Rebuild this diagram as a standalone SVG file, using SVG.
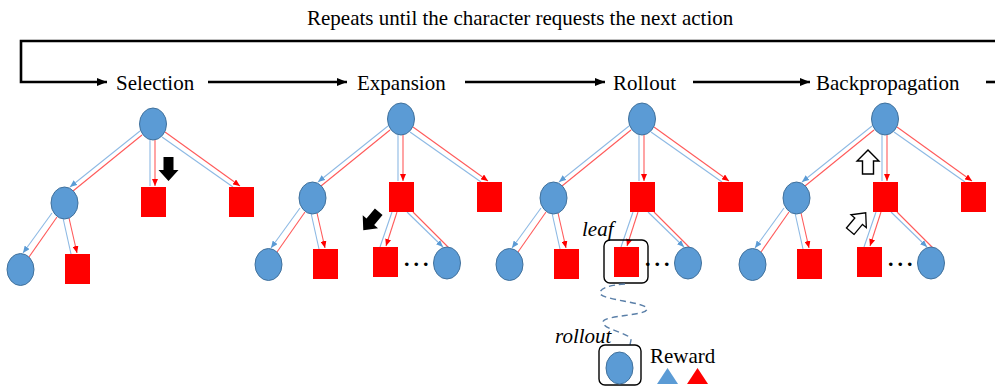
<svg xmlns="http://www.w3.org/2000/svg" xmlns:xlink="http://www.w3.org/1999/xlink" width="995" height="387" viewBox="0 0 995 387">
<style>
  .lbl { font-family: "Liberation Serif", "Times New Roman", serif; font-size: 21px; fill: #000; }
  .it { font-style: italic; }
  .flow { fill: none; stroke: #000; stroke-width: 2.6; }
  .c { fill: #5B9BD5; stroke: #41719C; stroke-width: 1; }
  .s { fill: #FF0000; }
  .eb { fill: none; stroke: #8DB9E4; stroke-width: 1.1; }
  .er { fill: none; stroke: #FF5A5A; stroke-width: 1.1; }
  .box { fill: none; stroke: #000; stroke-width: 1.4; }
  .dots { font-family: "Liberation Serif", serif; font-size: 22px; font-weight: bold; letter-spacing: 4px; fill: #000; }
  .blk { fill: #000; }
  .out { fill: #fff; stroke: #000; stroke-width: 1.3; }
</style>
<defs>
  <marker id="ab" viewBox="0 0 7 6" refX="7" refY="3" markerWidth="7" markerHeight="6" markerUnits="userSpaceOnUse" orient="auto">
    <path d="M0,0 L7,3 L0,6 Z" fill="#5B9BD5"/>
  </marker>
  <marker id="ar" viewBox="0 0 7 6" refX="7" refY="3" markerWidth="7" markerHeight="6" markerUnits="userSpaceOnUse" orient="auto">
    <path d="M0,0 L7,3 L0,6 Z" fill="#FF0000"/>
  </marker>
  <marker id="ak" viewBox="0 0 10 8" refX="10" refY="4" markerWidth="10" markerHeight="8" markerUnits="userSpaceOnUse" orient="auto">
    <path d="M0,0 L10,4 L0,8 Z" fill="#000"/>
  </marker>
  <path id="barrow" d="M-5,-12 L5,-12 L5,1 L10,1 L0,12 L-10,1 L-5,1 Z"/>
</defs>

<text class="lbl" x="307" y="25">Repeats until the character requests the next action</text>

<g id="flow">
  <path class="flow" d="M995,41 H21 V82 H107" marker-end="url(#ak)"/>
  <path class="flow" d="M208,82 H347" marker-end="url(#ak)"/>
  <path class="flow" d="M465,82 H605" marker-end="url(#ak)"/>
  <path class="flow" d="M693,82 H810" marker-end="url(#ak)"/>
  <path class="flow" d="M986,82 H995"/>
</g>
<text class="lbl" x="116" y="90">Selection</text>
<text class="lbl" x="357" y="90">Expansion</text>
<text class="lbl" x="613" y="90">Rollout</text>
<text class="lbl" x="816" y="90">Backpropagation</text>

<!-- Tree 1: Selection -->
<g id="tree-selection" transform="translate(153,124)">
  <g id="t1-connectors">
    <path class="eb" d="M-13,7 L-83,63" marker-end="url(#ab)"/>
    <path class="er" d="M-11,11 L-80,67"/>
    <path class="eb" d="M-3,16 L-3,62"/>
    <path class="er" d="M2,16 L2,62" marker-end="url(#ar)"/>
    <path class="eb" d="M9,13 L80,63"/>
    <path class="er" d="M12,8 L87,62" marker-end="url(#ar)"/>
    <path class="eb" d="M-101,89 L-130,129" marker-end="url(#ab)"/>
    <path class="er" d="M-96,93 L-124,133"/>
    <path class="eb" d="M-90,94 L-82,130"/>
    <path class="er" d="M-84,94 L-76,129" marker-end="url(#ar)"/>
  </g>
  <g id="t1-root"><ellipse class="c" cx="0" cy="0" rx="13.5" ry="16"/></g>
  <g id="t1-l"><ellipse class="c" cx="-88.5" cy="79" rx="13.5" ry="16"/></g>
  <g id="t1-m"><rect class="s" x="-12" y="63" width="25" height="30"/></g>
  <g id="t1-r"><rect class="s" x="76" y="63" width="25" height="30"/></g>
  <g id="t1-ll"><ellipse class="c" cx="-132.5" cy="145.5" rx="13.5" ry="16"/></g>
  <g id="t1-lr"><rect class="s" x="-88" y="130" width="25" height="30"/></g>
  <g id="t1-arrow"><use xlink:href="#barrow" href="#barrow" class="blk" transform="translate(15.5,45)"/></g>
</g>

<!-- Tree 2: Expansion -->
<g id="tree-expansion" transform="translate(401,119)">
  <g id="t2-connectors">
    <path class="eb" d="M-13,7 L-83,63" marker-end="url(#ab)"/>
    <path class="er" d="M-11,11 L-80,67"/>
    <path class="eb" d="M-3,16 L-3,62"/>
    <path class="er" d="M2,16 L2,62" marker-end="url(#ar)"/>
    <path class="eb" d="M9,13 L80,63"/>
    <path class="er" d="M12,8 L87,62" marker-end="url(#ar)"/>
    <path class="eb" d="M-101,89 L-130,129" marker-end="url(#ab)"/>
    <path class="er" d="M-96,93 L-124,133"/>
    <path class="eb" d="M-90,94 L-82,130"/>
    <path class="er" d="M-84,94 L-76,129" marker-end="url(#ar)"/>
    <path class="eb" d="M-9,93 L-21,128"/>
    <path class="er" d="M-4,93 L-15,127" marker-end="url(#ar)"/>
    <path class="eb" d="M6,93 L42,128" marker-end="url(#ab)"/>
    <path class="er" d="M12,93 L49,130"/>
  </g>
  <g id="t2-root"><ellipse class="c" cx="0" cy="0" rx="13.5" ry="16"/></g>
  <g id="t2-l"><ellipse class="c" cx="-88.5" cy="79" rx="13.5" ry="16"/></g>
  <g id="t2-m"><rect class="s" x="-12" y="63" width="25" height="30"/></g>
  <g id="t2-r"><rect class="s" x="76" y="63" width="25" height="30"/></g>
  <g id="t2-ll"><ellipse class="c" cx="-132.5" cy="145.5" rx="13.5" ry="16"/></g>
  <g id="t2-lr"><rect class="s" x="-88" y="130" width="25" height="30"/></g>
  <g id="t2-ml"><rect class="s" x="-28" y="128" width="25" height="30"/></g>
  <g id="t2-dots"><text class="dots" x="3" y="147">...</text></g>
  <g id="t2-mr"><ellipse class="c" cx="46" cy="144" rx="13.5" ry="16"/></g>
  <g id="t2-arrow"><use xlink:href="#barrow" href="#barrow" class="blk" transform="translate(-30,102) rotate(40)"/></g>
</g>

<!-- Tree 3: Rollout -->
<g id="tree-rollout" transform="translate(642,119)">
  <g id="t3-connectors">
    <path class="eb" d="M-13,7 L-83,63" marker-end="url(#ab)"/>
    <path class="er" d="M-11,11 L-80,67"/>
    <path class="eb" d="M-3,16 L-3,62"/>
    <path class="er" d="M2,16 L2,62" marker-end="url(#ar)"/>
    <path class="eb" d="M9,13 L80,63"/>
    <path class="er" d="M12,8 L87,62" marker-end="url(#ar)"/>
    <path class="eb" d="M-101,89 L-130,129" marker-end="url(#ab)"/>
    <path class="er" d="M-96,93 L-124,133"/>
    <path class="eb" d="M-90,94 L-82,130"/>
    <path class="er" d="M-84,94 L-76,129" marker-end="url(#ar)"/>
    <path class="eb" d="M-9,93 L-21,128"/>
    <path class="er" d="M-4,93 L-15,127" marker-end="url(#ar)"/>
    <path class="eb" d="M6,93 L42,128" marker-end="url(#ab)"/>
    <path class="er" d="M12,93 L49,130"/>
  </g>
  <g id="t3-root"><ellipse class="c" cx="0" cy="0" rx="13.5" ry="16"/></g>
  <g id="t3-l"><ellipse class="c" cx="-88.5" cy="79" rx="13.5" ry="16"/></g>
  <g id="t3-m"><rect class="s" x="-12" y="63" width="25" height="30"/></g>
  <g id="t3-r"><rect class="s" x="76" y="63" width="25" height="30"/></g>
  <g id="t3-ll"><ellipse class="c" cx="-132.5" cy="145.5" rx="13.5" ry="16"/></g>
  <g id="t3-lr"><rect class="s" x="-88" y="130" width="25" height="30"/></g>
  <g id="t3-leaf"><rect class="s" x="-28" y="128" width="25" height="30"/></g>
  <g id="t3-dots"><text class="dots" x="3" y="147">...</text></g>
  <g id="t3-mr"><ellipse class="c" cx="46" cy="144" rx="13.5" ry="16"/></g>
</g>

<g id="rollout-detail">
  <rect class="box" x="604" y="240" width="44" height="43" rx="6"/>
  <text class="lbl it" x="582" y="236">leaf</text>
  <path d="M625,284 C610,285 600,288 600,293 C600,300 647,302 647,309 C647,316 603,315 603,322 C603,330 631,333 631,340 L630,345" fill="none" stroke="#5A7FA8" stroke-width="1.4" stroke-dasharray="6,4"/>
  <text class="lbl it" x="555" y="343">rollout</text>
  <rect class="box" x="599" y="345" width="42" height="40" rx="6"/>
  <g id="reward-node"><ellipse class="c" cx="619.5" cy="368" rx="13.5" ry="16"/></g>
  <text class="lbl" x="650" y="363">Reward</text>
  <polygon points="657,384 667.5,368 678,384" fill="#5B9BD5"/>
  <polygon points="687,384 697.5,368 708,384" fill="#FF0000"/>
</g>

<!-- Tree 4: Backpropagation -->
<g id="tree-backprop" transform="translate(885,119)">
  <g id="t4-connectors">
    <path class="eb" d="M-13,7 L-83,63" marker-end="url(#ab)"/>
    <path class="er" d="M-11,11 L-80,67"/>
    <path class="eb" d="M-3,16 L-3,62"/>
    <path class="er" d="M2,16 L2,62" marker-end="url(#ar)"/>
    <path class="eb" d="M9,13 L80,63"/>
    <path class="er" d="M12,8 L87,62" marker-end="url(#ar)"/>
    <path class="eb" d="M-101,89 L-130,129" marker-end="url(#ab)"/>
    <path class="er" d="M-96,93 L-124,133"/>
    <path class="eb" d="M-90,94 L-82,130"/>
    <path class="er" d="M-84,94 L-76,129" marker-end="url(#ar)"/>
    <path class="eb" d="M-9,93 L-21,128"/>
    <path class="er" d="M-4,93 L-15,127" marker-end="url(#ar)"/>
    <path class="eb" d="M6,93 L42,128" marker-end="url(#ab)"/>
    <path class="er" d="M12,93 L49,130"/>
  </g>
  <g id="t4-root"><ellipse class="c" cx="0" cy="0" rx="13.5" ry="16"/></g>
  <g id="t4-l"><ellipse class="c" cx="-88.5" cy="79" rx="13.5" ry="16"/></g>
  <g id="t4-m"><rect class="s" x="-12" y="63" width="25" height="30"/></g>
  <g id="t4-r"><rect class="s" x="76" y="63" width="25" height="30"/></g>
  <g id="t4-ll"><ellipse class="c" cx="-132.5" cy="145.5" rx="13.5" ry="16"/></g>
  <g id="t4-lr"><rect class="s" x="-88" y="130" width="25" height="30"/></g>
  <g id="t4-ml"><rect class="s" x="-28" y="128" width="25" height="30"/></g>
  <g id="t4-dots"><text class="dots" x="3" y="147">...</text></g>
  <g id="t4-mr"><ellipse class="c" cx="46" cy="144" rx="13.5" ry="16"/></g>
  <g id="t4-arrow-up"><use xlink:href="#barrow" href="#barrow" class="out" transform="translate(-17,43) rotate(180) scale(1.1,1)"/></g>
  <g id="t4-arrow-diag"><use xlink:href="#barrow" href="#barrow" class="out" transform="translate(-27,103) rotate(220)"/></g>
</g>
</svg>
